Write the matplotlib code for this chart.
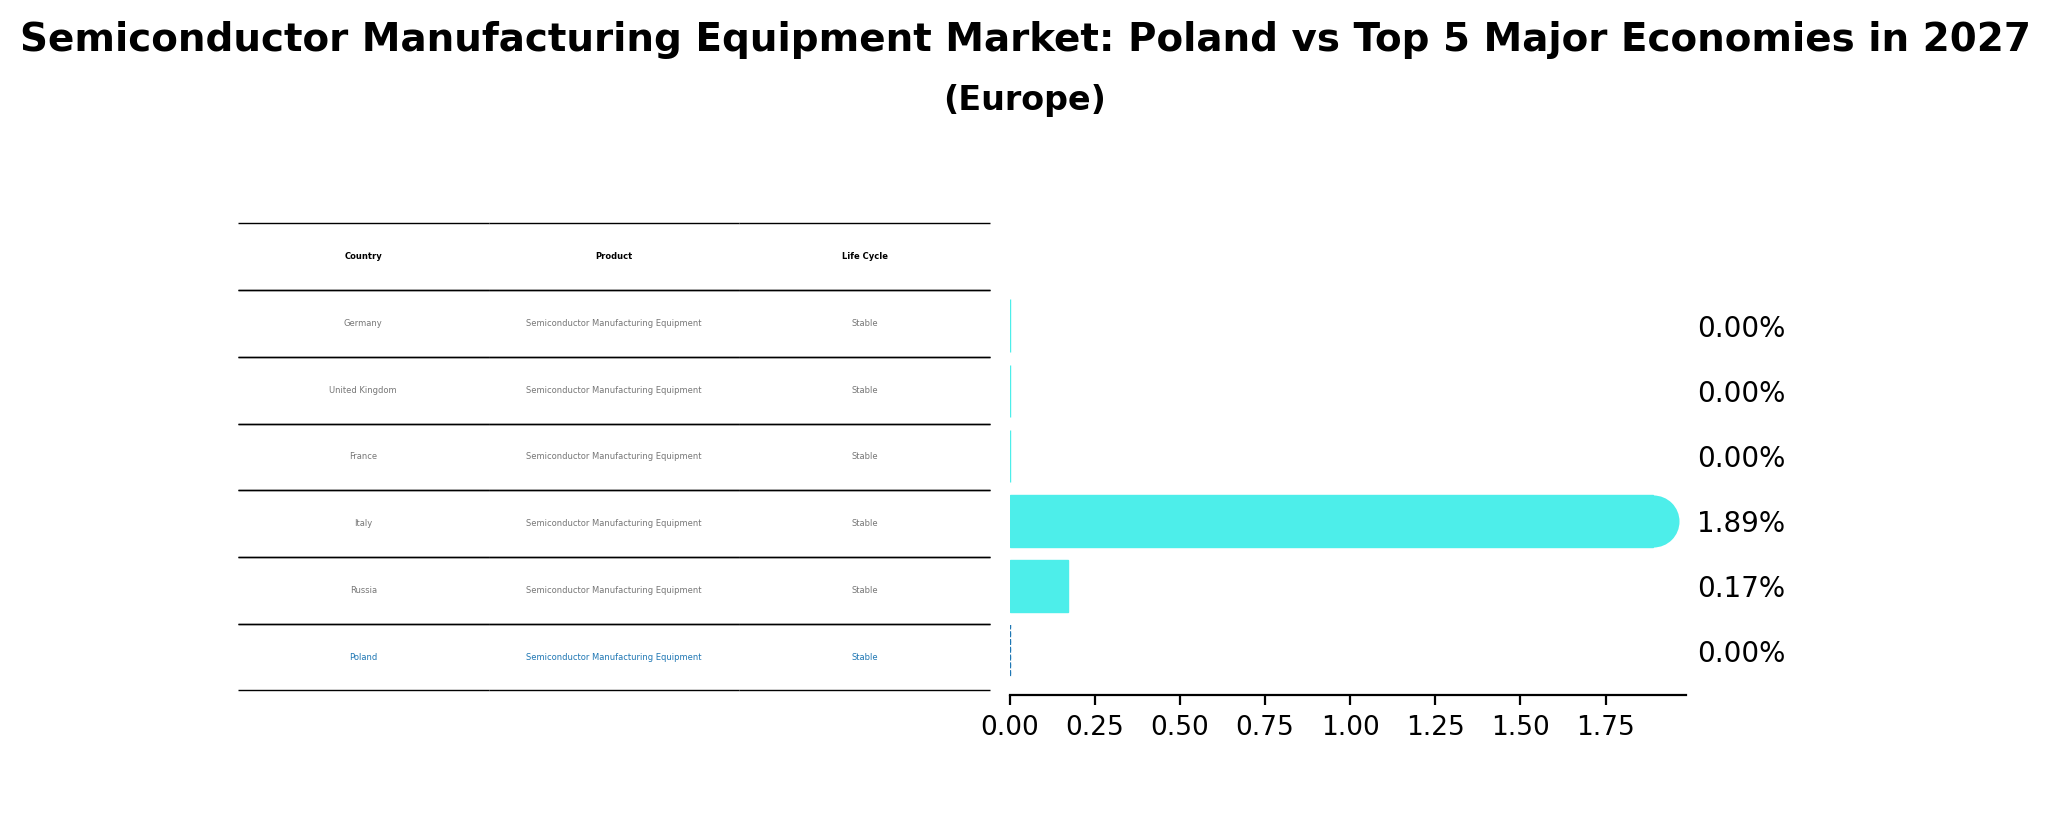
import matplotlib
matplotlib.use("Agg")
import matplotlib.pyplot as plt

countries = ["Germany", "United Kingdom", "France", "Italy", "Russia", "Poland"]
product = "Semiconductor Manufacturing Equipment"
life_cycle = ["Stable", "Stable", "Stable", "Stable", "Stable", "Stable"]
shares = [0.00, 0.00, 0.00, 1.89, 0.17, 0.00]
headers = ["Country", "Product", "Life Cycle"]

bar_color = "#4deeea"
focus_color = "#1f77b4"

fig = plt.figure(figsize=(10.25, 4.115), dpi=200)
fig.text(0.5, 0.952, "Semiconductor Manufacturing Equipment Market: Poland vs Top 5 Major Economies in 2027",
         ha="center", va="center", fontsize=14, fontweight="bold")
fig.text(0.5, 0.878, "(Europe)", ha="center", va="center", fontsize=12, fontweight="bold")

# table on the left
tax = fig.add_axes([0.116, 0.161, 0.367, 0.5675])
tax.axis("off")
rows = [[c, product, lc] for c, lc in zip(countries, life_cycle)]
tbl = tax.table(cellText=rows, colLabels=headers, cellLoc="center",
                bbox=[0, 0, 1, 1], edges="horizontal")
tbl.auto_set_font_size(False)
tbl.set_fontsize(3)
for (r, c), cell in tbl.get_celld().items():
    cell.set_linewidth(0.5)
    cell.set_edgecolor("black")
    if r == 0:
        cell.get_text().set_fontweight("bold")
        cell.get_text().set_color("black")
    elif countries[r - 1] == "Poland":
        cell.get_text().set_color(focus_color)
    else:
        cell.get_text().set_color("#777777")

# bars on the right
ax = fig.add_axes([0.4925, 0.155, 0.3297, 0.504])
h = 0.8
for i, (c, v) in enumerate(zip(countries, shares)):
    if c == "Poland":
        ax.barh(i, v, height=h, color=bar_color, edgecolor=focus_color,
                linestyle=(0, (2, 1.5)), linewidth=0.8)
    else:
        ax.barh(i, v, height=h, color=bar_color, edgecolor=bar_color, linewidth=0.5)
ax.invert_yaxis()
ax.set_xlim(0, max(shares) * 1.05)
ax.set_yticks([])
for s in ["top", "right", "left"]:
    ax.spines[s].set_visible(False)
ax.tick_params(axis="x", labelsize=9.5)

for i, v in enumerate(shares):
    ax.text(1.017, i, f"{v:.2f}%", transform=ax.get_yaxis_transform(),
            ha="left", va="center_baseline", fontsize=10)

# round cap on the largest bar
imax = shares.index(max(shares))
fig.canvas.draw()
p0 = ax.transData.transform((0, imax - h / 2))
p1 = ax.transData.transform((0, imax + h / 2))
diam_pt = abs(p1[1] - p0[1]) * 72 / fig.dpi
ax.scatter([shares[imax]], [imax], s=diam_pt ** 2, color=bar_color, linewidths=0,
           zorder=3, clip_on=False)

fig.savefig("out.png", dpi=200)
